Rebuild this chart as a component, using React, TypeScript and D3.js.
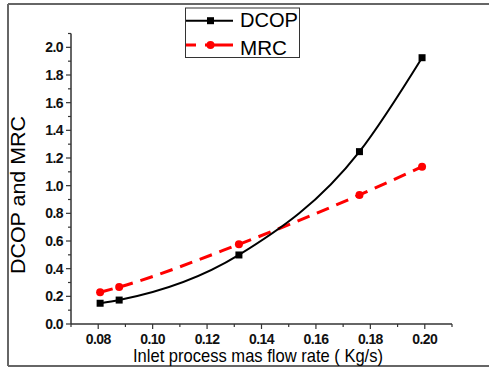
import React from "react";
import * as d3 from "d3";

const flowRate = [0.0807, 0.0877, 0.1317, 0.176, 0.199];
const dcop = [0.15, 0.173, 0.499, 1.246, 1.925];
const mrc = [0.229, 0.267, 0.576, 0.933, 1.137];
const xMajorTicks = [0.08, 0.1, 0.12, 0.14, 0.16, 0.18, 0.2];
const yMajorTicks = [0, 0.2, 0.4, 0.6, 0.8, 1.0, 1.2, 1.4, 1.6, 1.8, 2.0];
const seriesNames = ["DCOP", "MRC"];

export default function App() {
  const W = 489, H = 368;
  const x = d3.scaleLinear().domain([0.07, 0.21]).range([71, 452]);
  const y = d3.scaleLinear().domain([0, 2.1]).range([324, 33.5]);
  const xMinor = d3.range(0, 15).map((i) => 0.07 + i * 0.01).filter((v) => !xMajorTicks.some((m) => Math.abs(m - v) < 1e-6));
  const yMinor = d3.range(0, 22).map((i) => i * 0.1).filter((v) => !yMajorTicks.some((m) => Math.abs(m - v) < 1e-6));
  const pts = (ys: number[]) => flowRate.map((f, i) => [x(f), y(ys[i])] as [number, number]);
  const line = d3.line().curve(d3.curveMonotoneX);
  const dcopPts = pts(dcop);
  const mrcPts = pts(mrc);
  const font = "Arial, 'Liberation Sans', sans-serif";
  return (
    <svg width={W} height={H} style={{ position: "absolute", left: 0, top: 0, background: "#fff" }} fontFamily={font}>
      {/* frame */}
      <line x1={8} y1={4} x2={W} y2={4} stroke="#666" strokeWidth={2} />
      <line x1={8} y1={4} x2={8} y2={366} stroke="#666" strokeWidth={2} />
      <line x1={8} y1={366} x2={W} y2={366} stroke="#666" strokeWidth={2} />
      {/* axes */}
      <line x1={71} y1={y(2.1)} x2={71} y2={324} stroke="#333" strokeWidth={1.5} />
      <line x1={71} y1={324} x2={452} y2={324} stroke="#333" strokeWidth={1.5} />
      {yMajorTicks.map((v) => (
        <g key={"ym" + v}>
          <line x1={66} x2={71} y1={y(v)} y2={y(v)} stroke="#333" strokeWidth={1.2} />
          <text x={63} y={y(v) + 5} textAnchor="end" fontSize={14} fontWeight="bold" letterSpacing={-0.6} fill="#111">
            {v.toFixed(1)}
          </text>
        </g>
      ))}
      {yMinor.map((v) => (
        <line key={"yn" + v} x1={68} x2={71} y1={y(v)} y2={y(v)} stroke="#333" strokeWidth={1.2} />
      ))}
      {xMajorTicks.map((v) => (
        <g key={"xm" + v}>
          <line x1={x(v)} x2={x(v)} y1={324} y2={329} stroke="#333" strokeWidth={1.2} />
          <text x={x(v)} y={343.5} textAnchor="middle" fontSize={14} fontWeight="bold" letterSpacing={-0.6} fill="#111">
            {v.toFixed(2)}
          </text>
        </g>
      ))}
      {xMinor.map((v) => (
        <line key={"xn" + v} x1={x(v)} x2={x(v)} y1={324} y2={327} stroke="#333" strokeWidth={1.2} />
      ))}
      {/* axis titles */}
      <text x={133} y={362} fontSize={19} textLength={250} lengthAdjust="spacingAndGlyphs" fill="#000">
        Inlet process mas flow rate (  Kg/s)
      </text>
      <text transform="translate(25,195) rotate(-90)" textAnchor="middle" fontSize={20} textLength={158} lengthAdjust="spacingAndGlyphs" fill="#000">
        DCOP and MRC
      </text>
      {/* series */}
      <path d={line(mrcPts) || ""} fill="none" stroke="#ff0000" strokeWidth={3} strokeDasharray="13,8" />
      <path d={line(dcopPts) || ""} fill="none" stroke="#000" strokeWidth={2} />
      {dcopPts.map((p, i) => (
        <rect key={"d" + i} x={p[0] - 3.5} y={p[1] - 3.5} width={7} height={7} fill="#000" />
      ))}
      {mrcPts.map((p, i) => (
        <circle key={"m" + i} cx={p[0]} cy={p[1]} r={4} fill="#ff0000" />
      ))}
      {/* legend */}
      <rect x={185.5} y={8} width={114} height={49.5} fill="#fff" stroke="#333" strokeWidth={1} />
      <line x1={186} x2={233} y1={20.7} y2={20.7} stroke="#000" strokeWidth={2} />
      <rect x={207} y={17.2} width={7} height={7} fill="#000" />
      <line x1={186} x2={233} y1={45} y2={45} stroke="#ff0000" strokeWidth={3} strokeDasharray="10,9,30" />
      <circle cx={210.5} cy={45} r={4} fill="#ff0000" />
      <text x={240} y={27} fontSize={21} textLength={58} lengthAdjust="spacingAndGlyphs" fill="#000">
        {seriesNames[0]}
      </text>
      <text x={240} y={54.5} fontSize={21} textLength={47} lengthAdjust="spacingAndGlyphs" fill="#000">
        {seriesNames[1]}
      </text>
    </svg>
  );
}
